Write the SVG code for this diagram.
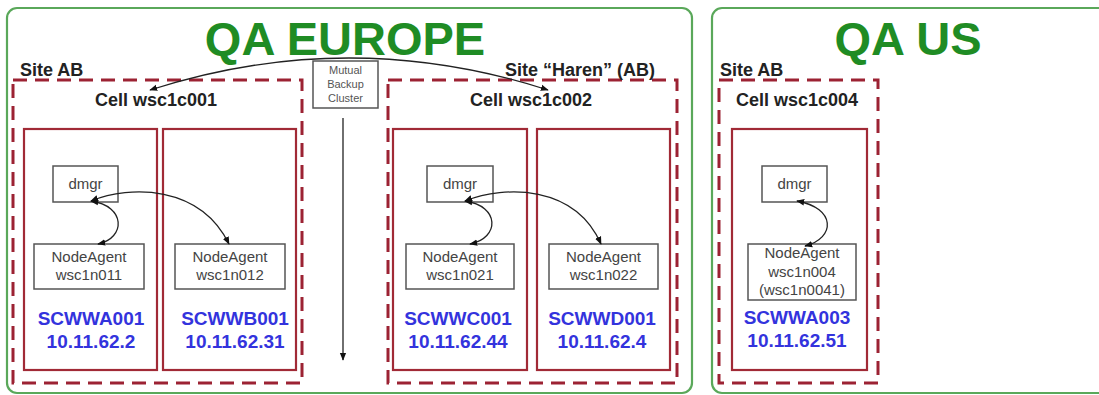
<svg xmlns="http://www.w3.org/2000/svg" width="1099" height="395" viewBox="0 0 1099 395">
<style>
.region{fill:#fff;stroke:#5aa85a;stroke-width:2.2}
.title{font-family:"Liberation Sans",Arial,sans-serif;font-weight:bold;font-size:47px;fill:#1f8c24;text-anchor:middle}
.site{font-family:"Liberation Sans",Arial,sans-serif;font-weight:bold;font-size:18px;fill:#222}
.cell{font-family:"Liberation Sans",Arial,sans-serif;font-weight:bold;font-size:18px;fill:#222;text-anchor:middle}
.dash{fill:none;stroke:#9c2233;stroke-width:3;stroke-dasharray:14 8}
.host{fill:none;stroke:#a12a36;stroke-width:2.2}
.proc{fill:#fff;stroke:#555;stroke-width:1.5}
.pt{font-family:"Liberation Sans",Arial,sans-serif;font-size:15px;fill:#444;text-anchor:middle}
.small{font-family:"Liberation Sans",Arial,sans-serif;font-size:11px;fill:#555;text-anchor:middle}
.hn{font-family:"Liberation Sans",Arial,sans-serif;font-weight:bold;font-size:19px;fill:#3333dd;text-anchor:middle}
.conn{fill:none;stroke:#222;stroke-width:1.3}
</style>
<defs>
<marker id="ah" viewBox="0 0 10 10" refX="9" refY="5" markerWidth="8" markerHeight="8" orient="auto-start-reverse" markerUnits="userSpaceOnUse">
<path d="M0,1 L10,5 L0,9 z" fill="#111"/>
</marker>
</defs>

<g id="qa-europe">
<rect class="region" x="7" y="8" width="685" height="385" rx="10"/>
<text class="title" x="345" y="55">QA EUROPE</text>
</g>
<g id="qa-us">
<rect class="region" x="712" y="8" width="400" height="385" rx="10"/>
<text class="title" x="908" y="55">QA US</text>
</g>

<g id="site-ab-eu">
<rect class="dash" x="13" y="80" width="289" height="303"/>
<text class="site" x="20" y="76">Site AB</text>
<text class="cell" x="156" y="106">Cell wsc1c001</text>
</g>
<g id="site-haren">
<rect class="dash" x="388" y="80" width="289" height="303"/>
<text class="site" x="505" y="76">Site “Haren” (AB)</text>
<text class="cell" x="531" y="106">Cell wsc1c002</text>
</g>
<g id="site-ab-us">
<rect class="dash" x="719" y="80" width="159" height="303"/>
<text class="site" x="720" y="76">Site AB</text>
<text class="cell" x="797" y="106">Cell wsc1c004</text>
</g>

<g id="host-scwwa001">
<rect class="host" x="24" y="129" width="133" height="241"/>
<rect class="proc" x="53" y="166" width="65" height="36"/>
<text class="pt" x="85.5" y="189">dmgr</text>
<rect class="proc" x="34" y="244" width="110" height="45"/>
<text class="pt" x="89" y="262">NodeAgent</text>
<text class="pt" x="89" y="280">wsc1n011</text>
<text class="hn" x="91" y="325">SCWWA001</text>
<text class="hn" x="91" y="348">10.11.62.2</text>
</g>
<g id="host-scwwb001">
<rect class="host" x="163" y="129" width="133" height="241"/>
<rect class="proc" x="175" y="244" width="110" height="45"/>
<text class="pt" x="230" y="262">NodeAgent</text>
<text class="pt" x="230" y="280">wsc1n012</text>
<text class="hn" x="235" y="325">SCWWB001</text>
<text class="hn" x="235" y="348">10.11.62.31</text>
</g>
<g id="host-scwwc001">
<rect class="host" x="393" y="129" width="134" height="241"/>
<rect class="proc" x="427" y="166" width="66" height="36"/>
<text class="pt" x="460" y="189">dmgr</text>
<rect class="proc" x="406" y="244" width="108" height="45"/>
<text class="pt" x="460" y="262">NodeAgent</text>
<text class="pt" x="460" y="280">wsc1n021</text>
<text class="hn" x="458" y="325">SCWWC001</text>
<text class="hn" x="458" y="348">10.11.62.44</text>
</g>
<g id="host-scwwd001">
<rect class="host" x="537" y="129" width="133" height="241"/>
<rect class="proc" x="549" y="244" width="109" height="45"/>
<text class="pt" x="603.5" y="262">NodeAgent</text>
<text class="pt" x="603.5" y="280">wsc1n022</text>
<text class="hn" x="602" y="325">SCWWD001</text>
<text class="hn" x="602" y="348">10.11.62.4</text>
</g>
<g id="host-scwwa003">
<rect class="host" x="732" y="129" width="135" height="241"/>
<rect class="proc" x="762" y="166" width="65" height="36"/>
<text class="pt" x="794.5" y="189">dmgr</text>
<rect class="proc" x="748" y="244" width="108" height="56"/>
<text class="pt" x="802" y="258">NodeAgent</text>
<text class="pt" x="802" y="277">wsc1n004</text>
<text class="pt" x="802" y="295">(wsc1n0041)</text>
<text class="hn" x="797" y="324">SCWWA003</text>
<text class="hn" x="797" y="347">10.11.62.51</text>
</g>

<g id="connectors">
<path class="conn" d="M150,90 Q349,26 548,90" marker-start="url(#ah)" marker-end="url(#ah)"/>
<line class="conn" x1="343" y1="118" x2="343" y2="360" marker-end="url(#ah)"/>
<path class="conn" d="M91,201 C126,206 126,238 98,244" marker-start="url(#ah)" marker-end="url(#ah)"/>
<path class="conn" d="M91,201 C130,185 200,185 229,244" marker-start="url(#ah)" marker-end="url(#ah)"/>
<path class="conn" d="M465,201 C500,206 500,238 470,244" marker-start="url(#ah)" marker-end="url(#ah)"/>
<path class="conn" d="M465,201 C505,185 575,185 601,244" marker-start="url(#ah)" marker-end="url(#ah)"/>
<path class="conn" d="M797,201 C836,208 836,238 805,246" marker-start="url(#ah)" marker-end="url(#ah)"/>
</g>

<g id="mutual-backup-cluster">
<rect class="proc" x="313" y="61" width="65" height="47"/>
<text class="small" x="345.5" y="74">Mutual</text>
<text class="small" x="345.5" y="88">Backup</text>
<text class="small" x="345.5" y="102">Cluster</text>
</g>
</svg>
